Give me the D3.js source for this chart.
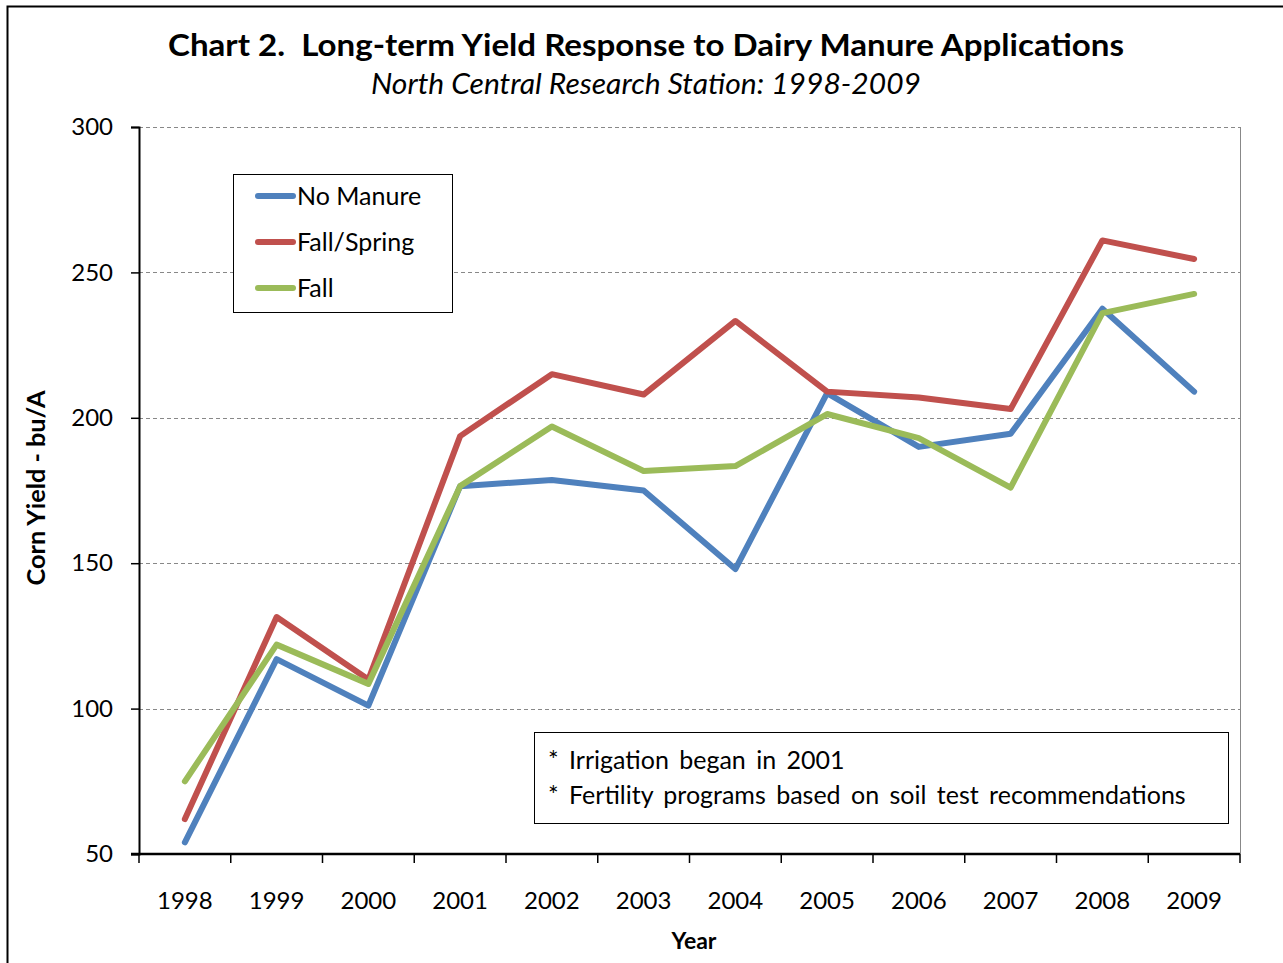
<!DOCTYPE html>
<html>
<head>
<meta charset="utf-8">
<script src="https://cdn.jsdelivr.net/npm/d3@7"></script>
<style>
  body { margin: 0; background: #fff; }
  text { font-family: Lato, "Open Sans", sans-serif; fill: #000; }
</style>
</head>
<body>
<div id="svg-container"></div>
<script>
// data
const years = ['1998', '1999', '2000', '2001', '2002', '2003', '2004', '2005', '2006', '2007', '2008', '2009']
const noManure = [54, 117, 101, 176.5, 178.6, 175, 148, 208.5, 190, 194.5, 237.5, 209]
const fallSpring = [62, 131.5, 110, 193.7, 215, 208, 233.3, 209, 207, 203, 261, 254.6]
const fall = [75, 122, 108.5, 176.5, 197, 181.7, 183.4, 201.3, 193, 176, 236, 242.6]
const yTicks = [50, 100, 150, 200, 250, 300]
const seriesNames = ['No Manure', 'Fall/Spring', 'Fall']
const notes = ['* Irrigation began in 2001', '* Fertility programs based on soil test recommendations']

const series = [
    { name: seriesNames[0], values: noManure, color: '#4F81BD' },
    { name: seriesNames[1], values: fallSpring, color: '#C0504D' },
    { name: seriesNames[2], values: fall, color: '#9BBB59' }
]

// dimensions
const dim = {
    width: 1101,
    height: 727,
    margin: { top: 127, left: 139 }
}

const root = d3.select('#svg-container')
    .append('svg')
        .attr('width', 1283)
        .attr('height', 963)

// outer frame
root.append('rect')
    .attr('x', 7.5).attr('y', 6.5)
    .attr('width', 1290).attr('height', 980)
    .attr('fill', 'none')
    .attr('stroke', '#000')
    .attr('stroke-width', 2)

// titles
root.append('text')
    .attr('x', 646).attr('y', 56)
    .attr('text-anchor', 'middle')
    .style('font-size', '31px')
    .style('font-weight', 'bold')
    .style('white-space', 'pre')
    .attr('textLength', 956)
    .attr('lengthAdjust', 'spacingAndGlyphs')
    .text('Chart 2.  Long-term Yield Response to Dairy Manure Applications')

root.append('text')
    .attr('x', 646).attr('y', 94)
    .attr('text-anchor', 'middle')
    .style('font-size', '28px')
    .style('font-style', 'italic')
    .attr('textLength', 550)
    .attr('lengthAdjust', 'spacingAndGlyphs')
    .text('North Central Research Station: 1998-2009')

const svg = root.append('g')
    .attr('transform', `translate(${dim.margin.left}, ${dim.margin.top})`)

// scales
const xScale = d3.scaleBand()
    .domain(years)
    .range([0, dim.width])

const yScale = d3.scaleLinear()
    .domain([50, 300])
    .range([dim.height, 0])

// plot frame (right side)
svg.append('line')
    .attr('x1', dim.width + 0.5).attr('x2', dim.width + 0.5)
    .attr('y1', 0).attr('y2', dim.height)
    .attr('stroke', '#888')

// gridlines
svg.append('g')
    .selectAll('line')
    .data(yTicks.filter(d => d > 50))
    .join('line')
        .attr('x1', 0).attr('x2', dim.width)
        .attr('y1', d => Math.round(yScale(d)) + 0.5)
        .attr('y2', d => Math.round(yScale(d)) + 0.5)
        .attr('stroke', '#888')
        .attr('stroke-dasharray', '4,3')

// y axis
const yAxis = svg.append('g')
    .call(d3.axisLeft(yScale).tickValues(yTicks).tickSize(8).tickPadding(18))
yAxis.select('.domain').attr('stroke-width', 2)
yAxis.selectAll('.tick line').attr('stroke-width', 1.5)
yAxis.selectAll('text').style('font-size', '24px').style('font-family', 'Lato, sans-serif')

// x axis, ticks at band boundaries
const xAxisG = svg.append('g')
    .attr('transform', `translate(0, ${dim.height})`)
xAxisG.append('line')
    .attr('x1', -8).attr('x2', dim.width)
    .attr('stroke', '#000').attr('stroke-width', 2.5)
xAxisG.selectAll('.xt')
    .data(years.concat(['end']))
    .join('line')
        .attr('class', 'xt')
        .attr('x1', (d, i) => i < years.length ? xScale(d) : dim.width)
        .attr('x2', (d, i) => i < years.length ? xScale(d) : dim.width)
        .attr('y1', 0).attr('y2', 9)
        .attr('stroke', '#000').attr('stroke-width', 1.5)
xAxisG.selectAll('text')
    .data(years)
    .join('text')
        .attr('x', d => xScale(d) + xScale.bandwidth() / 2)
        .attr('y', 55)
        .attr('text-anchor', 'middle')
        .style('font-size', '24px')
        .text(d => d)

// axis titles
root.append('text')
    .attr('x', 694).attr('y', 949)
    .attr('text-anchor', 'middle')
    .style('font-size', '23px')
    .style('font-weight', 'bold')
    .text('Year')

root.append('text')
    .attr('transform', 'translate(45, 488) rotate(-90)')
    .attr('text-anchor', 'middle')
    .style('font-size', '24px')
    .style('font-weight', 'bold')
    .attr('textLength', 195)
    .attr('lengthAdjust', 'spacingAndGlyphs')
    .text('Corn Yield - bu/A')

// lines
const line = d3.line()
    .x((d, i) => xScale(years[i]) + xScale.bandwidth() / 2)
    .y(d => yScale(d))

svg.append('g')
    .selectAll('path')
    .data(series)
    .join('path')
        .attr('d', d => line(d.values))
        .attr('fill', 'none')
        .attr('stroke', d => d.color)
        .attr('stroke-width', 6)
        .attr('stroke-linecap', 'round')
        .attr('stroke-linejoin', 'round')

// legend
const legend = root.append('g')
legend.append('rect')
    .attr('x', 233.5).attr('y', 174.5)
    .attr('width', 219).attr('height', 138)
    .attr('fill', '#fff')
    .attr('stroke', '#000')
const items = legend.selectAll('.item')
    .data(series)
    .join('g')
        .attr('transform', (d, i) => `translate(0, ${196 + i * 46})`)
items.append('line')
    .attr('x1', 258).attr('x2', 293)
    .attr('stroke', d => d.color)
    .attr('stroke-width', 6)
    .attr('stroke-linecap', 'round')
items.append('text')
    .attr('x', 297).attr('y', 9)
    .style('font-size', '25px')
    .text(d => d.name)

// notes box
root.append('rect')
    .attr('x', 534.5).attr('y', 732.5)
    .attr('width', 694).attr('height', 91)
    .attr('fill', '#fff')
    .attr('stroke', '#000')
root.selectAll('.note')
    .data(notes)
    .join('text')
        .attr('class', 'note')
        .attr('x', 548)
        .attr('y', (d, i) => 769 + i * 35)
        .style('font-size', '25px')
        .style('word-spacing', '4px')
        .text(d => d)
</script>
</body>
</html>
